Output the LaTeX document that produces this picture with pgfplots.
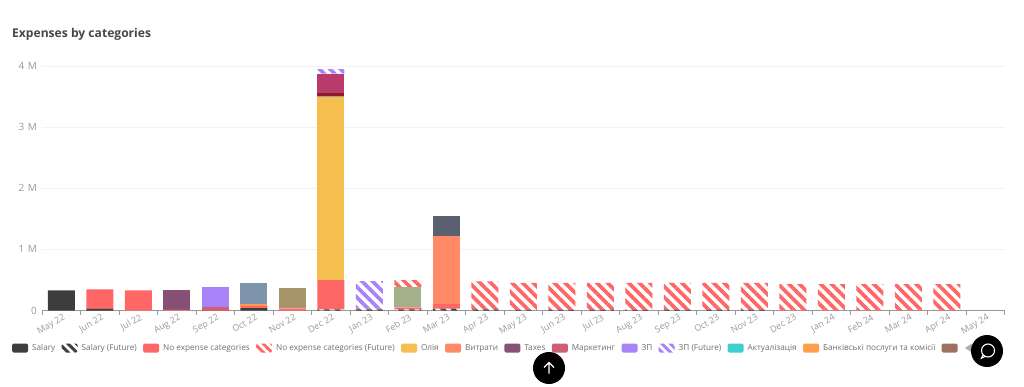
\documentclass[border=0pt]{standalone}
\usepackage{fontspec}
\setmainfont{Open Sans}
\usepackage{pgfplots}
\usepackage{pgfplotstable}
\pgfplotsset{compat=1.18}
\usetikzlibrary{patterns.meta}
\definecolor{cSal}{HTML}{3D3D3D}
\definecolor{cNe}{HTML}{FF6666}
\definecolor{cOil}{HTML}{F5BF4F}
\definecolor{cVyt}{HTML}{FF8A65}
\definecolor{cTax}{HTML}{875176}
\definecolor{cMkt}{HTML}{CD6173}
\definecolor{cZp}{HTML}{A882F8}
\definecolor{cAkt}{HTML}{3CCFCF}
\definecolor{cBank}{HTML}{FF9F4A}
\definecolor{cBrown}{HTML}{A06F63}
\definecolor{cBlue}{HTML}{7E94AA}
\definecolor{cTan}{HTML}{A8946B}
\definecolor{cSage}{HTML}{A3B18A}
\definecolor{cGrey}{HTML}{A89A90}
\definecolor{cDkr}{HTML}{8A1F2A}
\definecolor{cMag}{HTML}{B83B6C}
\definecolor{cDark}{HTML}{5A6070}
\definecolor{cTick}{HTML}{999999}
\definecolor{cLeg}{HTML}{6E6E6E}
\pgfplotstableread{
i sal salF ne mkt bank oil vyt tax zp blue tan sage grey dkr mag dark neF zpF
0 .328 0 0 0 0 0 0 0 0 0 0 0 0 0 0 0 0 0
1 .025 0 .319 0 0 0 0 0 0 0 0 0 0 0 0 0 0 0
2 0 0 .328 0 0 0 0 0 0 0 0 0 0 0 0 0 0 0
3 0 0 .012 0 0 0 0 .321 0 0 0 0 0 0 0 0 0 0
4 0 0 0 .055 0 0 0 0 .327 0 0 0 0 0 0 0 0 0
5 .038 0 .038 0 .027 0 0 0 0 .340 0 0 0 0 0 0 0 0
6 0 0 .033 0 0 0 0 0 0 0 .339 0 0 0 0 0 0 0
7 0 .02 .477 0 0 3.003 0 0 0 0 0 0 .015 .04 .319 0 0 .076
8 0 .02 0 0 0 0 0 0 0 0 0 0 0 0 0 0 .012 .449
9 0 .02 .032 0 0 0 0 0 0 0 0 .336 0 0 0 0 .109 0
10 0 .03 .074 0 0 0 1.12 0 0 0 0 0 0 0 0 .328 0 0
11 0 .02 0 0 0 0 0 0 0 0 0 0 0 0 0 0 .455 0
12 0 .012 0 0 0 0 0 0 0 0 0 0 0 0 0 0 .441 0
13 0 .012 0 0 0 0 0 0 0 0 0 0 0 0 0 0 .441 0
14 0 .012 0 0 0 0 0 0 0 0 0 0 0 0 0 0 .441 0
15 0 .012 0 0 0 0 0 0 0 0 0 0 0 0 0 0 .441 0
16 0 .012 0 0 0 0 0 0 0 0 0 0 0 0 0 0 .440 0
17 0 .012 0 0 0 0 0 0 0 0 0 0 0 0 0 0 .440 0
18 0 .012 0 0 0 0 0 0 0 0 0 0 0 0 0 0 .440 0
19 0 0 0 0 0 0 0 0 0 0 0 0 0 0 0 0 .431 0
20 0 0 0 0 0 0 0 0 0 0 0 0 0 0 0 0 .431 0
21 0 0 0 0 0 0 0 0 0 0 0 0 0 0 0 0 .431 0
22 0 0 0 0 0 0 0 0 0 0 0 0 0 0 0 0 .431 0
23 0 0 0 0 0 0 0 0 0 0 0 0 0 0 0 0 .431 0
24 0 0 0 0 0 0 0 0 0 0 0 0 0 0 0 0 0 0
}\data
\newcommand{\ser}[2]{\addplot+[forget plot,ybar,fill=#2,draw=none,mark=none] table[x=i,y=#1]{\data};}
\newcommand{\serp}[2]{\addplot+[forget plot,ybar,draw=none,mark=none,pattern={Lines[angle=-45,distance=7.5pt,line width=3.7pt]},pattern color=#2] table[x=i,y=#1]{\data};}
\newcommand{\legsolid}[2]{\addlegendimage{fill=#1,draw=none}\addlegendentry{#2}}
\newcommand{\leghatch}[2]{\addlegendimage{draw=none,pattern={Lines[angle=-45,distance=6pt,line width=3pt]},pattern color=#1}\addlegendentry{#2}}
\begin{document}
\begin{tikzpicture}[x=1pt,y=1pt]
\path[use as bounding box] (0,0) rectangle (1024,386);
\begin{axis}[
  at={(42pt,75.5pt)},anchor=south west,
  scale only axis,width=962.5pt,height=244.5pt,
  ybar stacked,bar width=27pt,
  xmin=-0.5,xmax=24.5,ymin=0,ymax=4,
  axis x line=bottom,axis y line=left,
  y axis line style={draw=none},
  x axis line style={-,draw=cTick,line width=.8pt},
  xtick={0,...,24},
  xticklabels={May 22,Jun 22,Jul 22,Aug 22,Sep 22,Oct 22,Nov 22,Dec 22,Jan 23,Feb 23,Mar 23,Apr 23,May 23,Jun 23,Jul 23,Aug 23,Sep 23,Oct 23,Nov 23,Dec 23,Jan 24,Feb 24,Mar 24,Apr 24,May 24},
  minor xtick={-0.5,0.5,...,24.5},
  major tick length=0pt,minor tick length=4pt,
  tick align=outside,
  xtick style={draw=none},
  minor x tick style={draw=cTick,line width=.6pt},
  ytick={0,1,2,3,4},yticklabels={0,1\,\,M,2\,\,M,3\,\,M,4\,\,M},
  ytick style={draw=none},
  ymajorgrids,grid style={draw=black!6!blue!5!white,line width=.7pt},
  tick label style={font=\fontsize{9pt}{10pt}\selectfont,text=cTick},
  x tick label style={rotate=30,anchor=north east,xshift=0.5pt,yshift=-2pt,inner sep=1pt},
  y tick label style={inner sep=1pt,xshift=-4pt,font=\fontsize{10pt}{11pt}\selectfont},
  legend columns=-1,
  legend style={at={(axis description cs:-0.0312,-0.1534)},anchor=west,draw=none,fill=none,inner sep=0pt,
    font=\fontsize{8.2pt}{10pt}\selectfont,text=cLeg,
    /tikz/every even column/.style={column sep=6.35pt},
    /tikz/every odd column/.style={column sep=4pt},
    nodes={inner sep=0pt,outer sep=0pt},
  },
  legend image code/.code={\path[rounded corners=1.5pt,#1] (0pt,-4.5pt) rectangle (16pt,4.5pt);},
]
\ser{sal}{cSal}
\serp{salF}{cSal}
\ser{ne}{cNe}
\ser{mkt}{cMkt}
\ser{bank}{cBank}
\ser{oil}{cOil}
\ser{vyt}{cVyt}
\ser{tax}{cTax}
\ser{zp}{cZp}
\ser{blue}{cBlue}
\ser{tan}{cTan}
\ser{sage}{cSage}
\ser{grey}{cGrey}
\ser{dkr}{cDkr}
\ser{mag}{cMag}
\ser{dark}{cDark}
\serp{neF}{cNe}
\serp{zpF}{cZp}
\legsolid{cSal}{Salary}
\leghatch{cSal}{Salary (Future)}
\legsolid{cNe}{No expense categories}
\leghatch{cNe}{No expense categories (Future)}
\legsolid{cOil}{Олія}
\legsolid{cVyt}{Витрати}
\legsolid{cTax}{Taxes}
\legsolid{cMkt}{Маркетинг}
\legsolid{cZp}{ЗП}
\leghatch{cZp}{ЗП (Future)}
\legsolid{cAkt}{Актуалізація}
\legsolid{cBank}{Банківські послуги та комісії}
\legsolid{cBrown}{}
\end{axis}
\node[anchor=west,inner sep=0pt,font=\bfseries\fontsize{12.1pt}{14pt}\selectfont,text=black!72] at (12,351.5) {Expenses by categories};
\fill[cTick!80] (965,38) -- (972,42.5) -- (972,33.5) -- cycle;
\fill[black] (549,18) circle (16);
\draw[white,line width=1.3pt] (549,12.5) -- (549,23.5) (544,18.5) -- (549,23.5) -- (554,18.5);
\fill[black] (987,35) circle (16);
\draw[white,line width=1.1pt] (988,35.5) circle (6.5);
\draw[white,line width=1.1pt] (983,31) -- (981.5,27.8) -- (985,29.5);
\end{tikzpicture}
\end{document}
